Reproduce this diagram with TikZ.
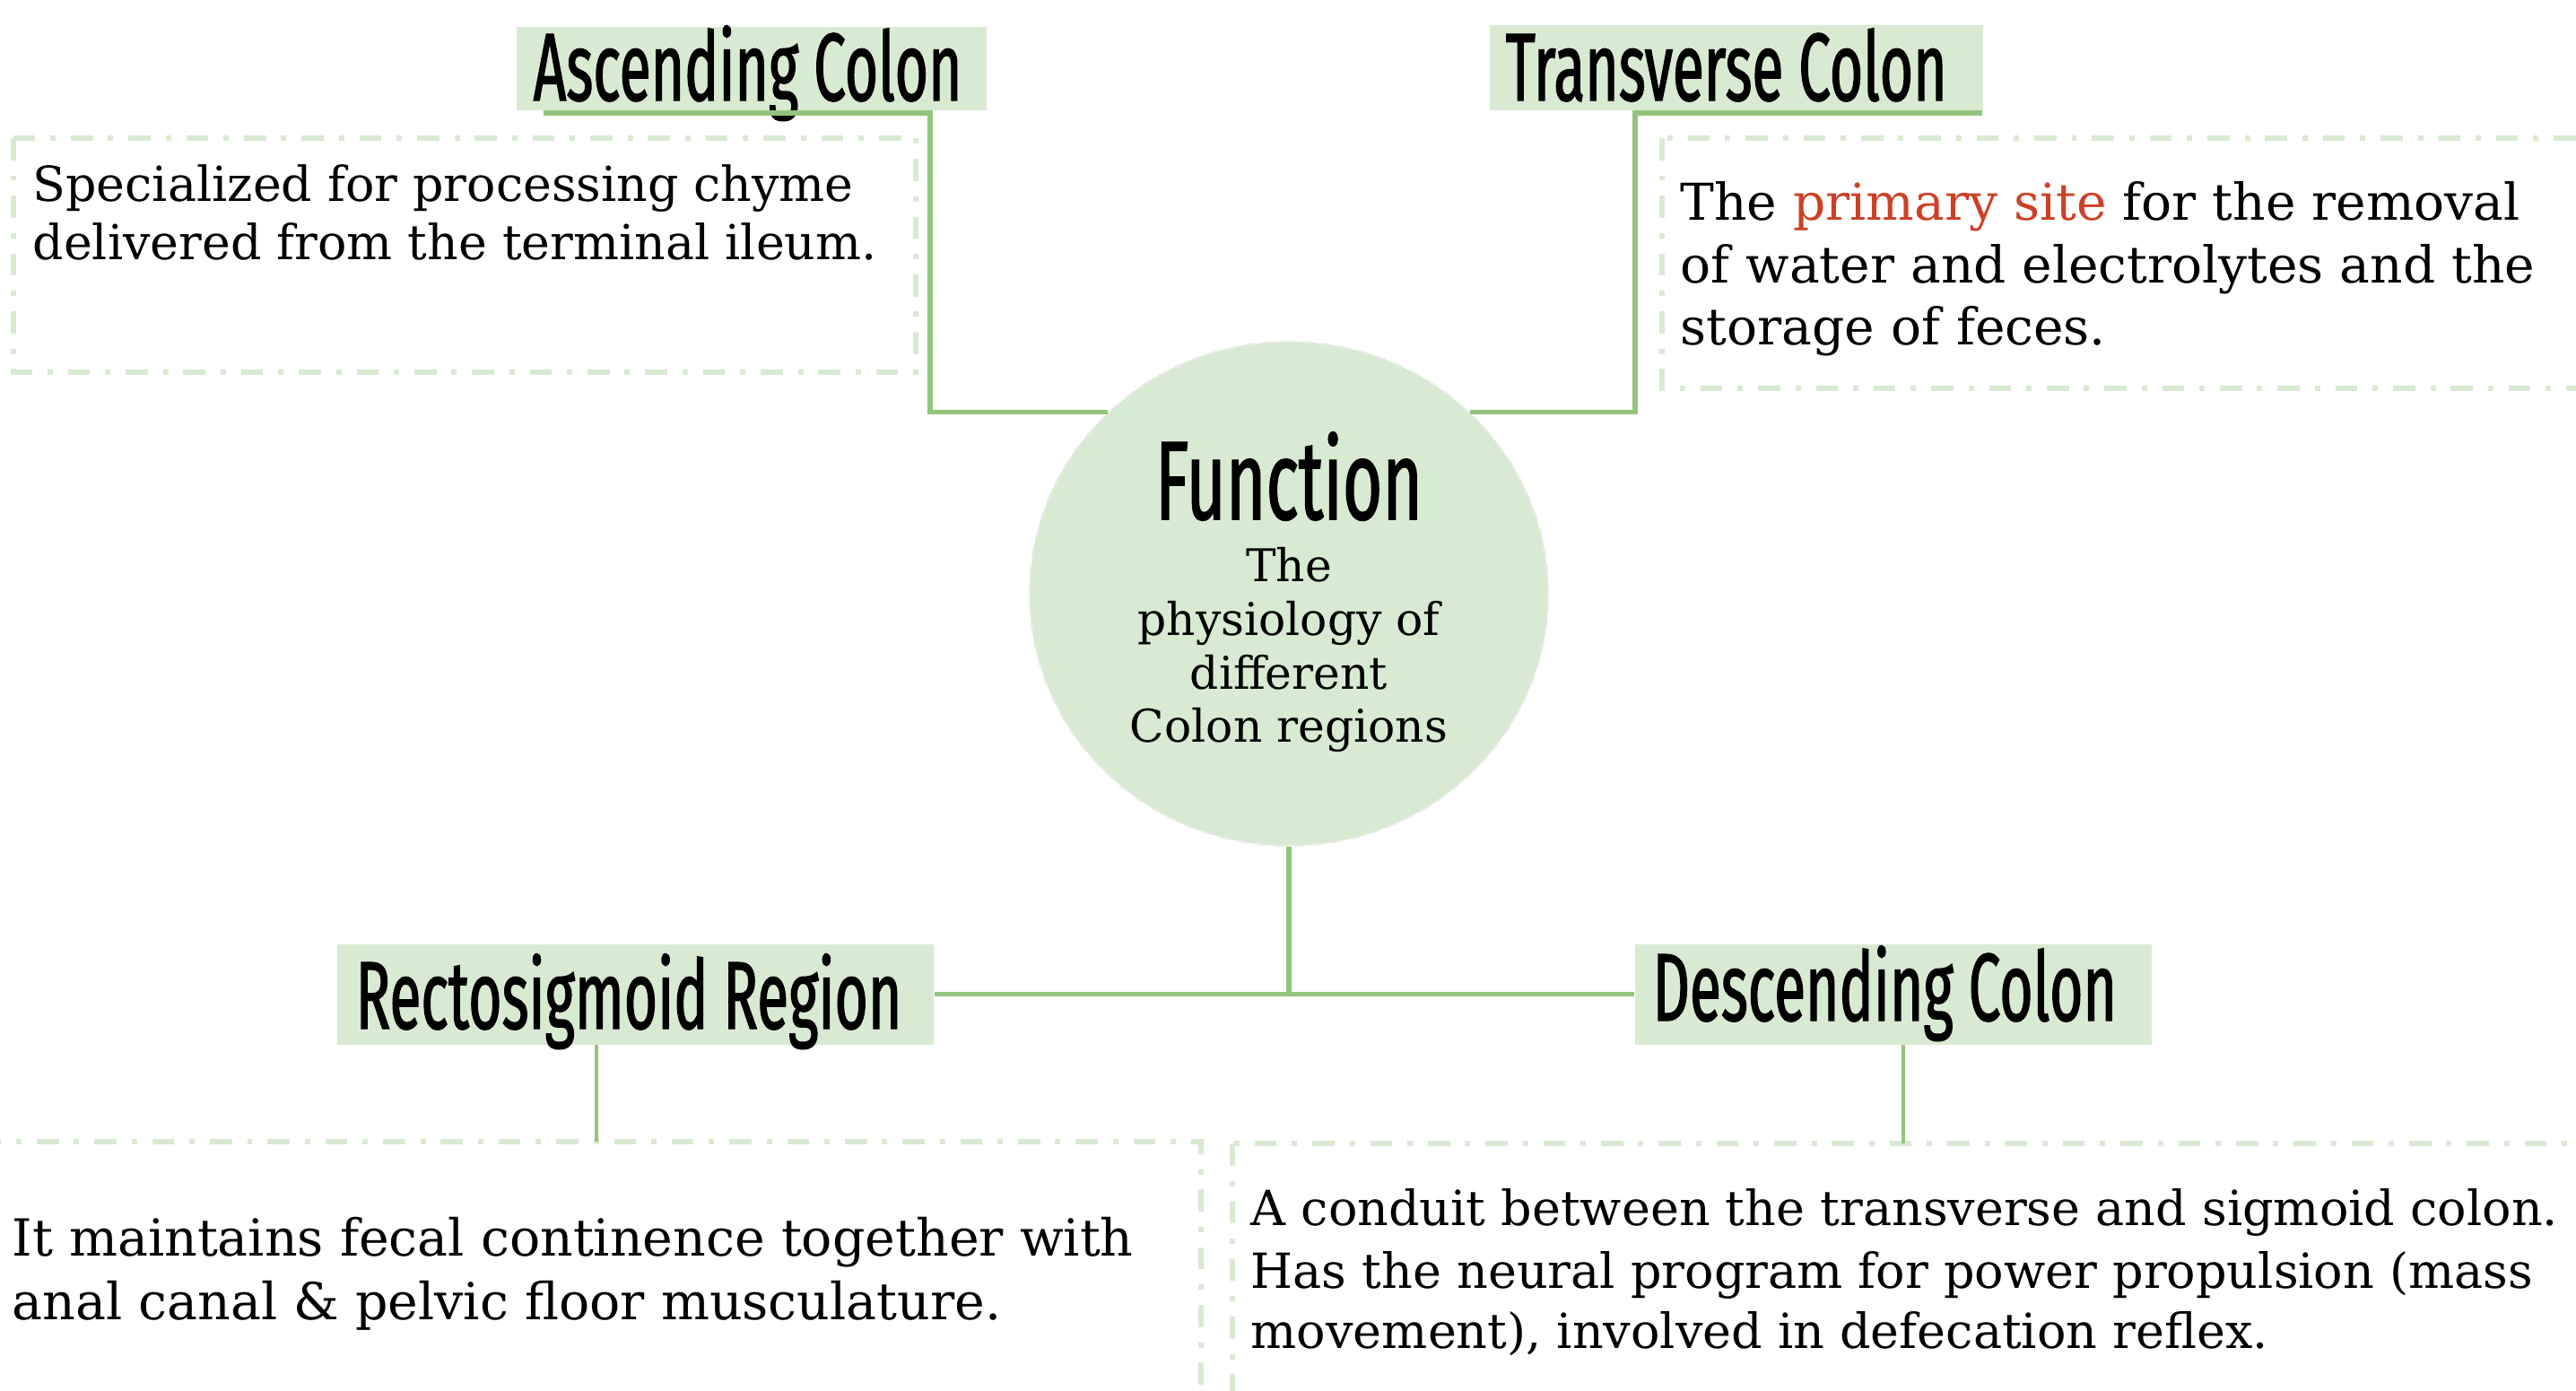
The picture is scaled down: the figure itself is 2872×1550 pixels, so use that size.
\documentclass[tikz,border=0pt]{standalone}
\usepackage{fontspec}
\setmainfont{DejaVu Serif}
\newfontfamily\headfont[FakeStretch=0.597,FakeBold=1.2]{Fira Sans}
\newfontfamily\hubfont[FakeStretch=0.61,FakeBold=1.2]{Fira Sans}
\usetikzlibrary{shapes.geometric}
\definecolor{leaf}{HTML}{D9EAD3}
\definecolor{stem}{HTML}{93C47D}
\definecolor{accent}{HTML}{CC4125}
\begin{document}
\begin{tikzpicture}[x=0.01cm,y=-0.01cm,
  headbox/.style={fill=leaf,draw=none,inner sep=0pt,anchor=north west},
  headtext/.style={anchor=base west,inner sep=0pt,font=\headfont\fontsize{30.5}{32}\selectfont},
  body/.style={anchor=base west,inner sep=0pt,font=\fontsize{#1}{18}\selectfont},
  body/.default=15.6,
  hubtext/.style={anchor=base,inner sep=0pt,font=\fontsize{14.3}{16}\selectfont},
  link/.style={draw=stem,line width=1.45pt},
  droplink/.style={draw=stem,line width=1pt},
  notebox/.style={draw=leaf,line width=1.45pt,dash pattern=on 7pt off 4.8pt on 1.7pt off 4.8pt}]
\useasboundingbox (0,0) rectangle (2872,1550);
\clip (0,0) rectangle (2872,1550);

% dashed note frames
\draw[notebox] (15,154) rectangle (1021,415);
\draw[notebox] (1853,154) rectangle (2920,433);
\draw[notebox] (-40,1273) rectangle (1339,1620);
\draw[notebox] (1374,1275) rectangle (2920,1620);

% central hub
\node[ellipse,fill=leaf,draw=black!8,dashed,line width=0.6pt,
      minimum width=5.78cm,minimum height=5.62cm,inner sep=0pt] (fn) at (1437,662) {};
\node[anchor=base,inner sep=0pt,font=\hubfont\fontsize{35.5}{37}\selectfont] (fnt) at (1437,579) {Function};
\node[hubtext] (fn1) at (1437,648) {The};
\node[hubtext] (fn2) at (1437,708) {physiology of};
\node[hubtext] (fn3) at (1437,768) {different};
\node[hubtext] (fn4) at (1437,827) {Colon regions};

% heading boxes
\node[headbox,minimum width=5.24cm,minimum height=0.93cm] (asc) at (575,29) {};
\node[headbox,minimum width=5.50cm,minimum height=0.95cm] (trv) at (1660,27) {};
\node[headbox,minimum width=6.65cm,minimum height=1.12cm] (rct) at (375,1052) {};
\node[headbox,minimum width=5.76cm,minimum height=1.12cm] (dsc) at (1822,1052) {};
\node[headtext] (asct) at (594,112) {Ascending Colon};
\node[headtext] (trvt) at (1678,112) {Transverse Colon};
\node[headtext] (rctt) at (396,1147) {Rectosigmoid Region};
\node[headtext] (dsct) at (1842,1138) {Descending Colon};

% connectors
\coordinate (ascturn) at (1037,126);
\coordinate (ascend) at (606,126);
\coordinate (trvturn) at (1823,126);
\coordinate (trvend) at (2210,126);
\coordinate (hubjoin) at (1437,1108);
\coordinate (rctdrop) at (665,1273);
\coordinate (dscdrop) at (2122,1275);
\draw[link] (fn.135) -| (ascturn) -- (ascend);
\draw[link] (fn.45) -| (trvturn) -- (trvend);
\draw[link] (fn.south) -- (hubjoin);
\draw[link] (rct.east) -- (dsc.west);
\draw[droplink] (rct.south -| rctdrop) -- (rctdrop);
\draw[droplink] (dsc.south -| dscdrop) -- (dscdrop);

% note texts
\node[body=15.3] (a1) at (36,224) {Specialized for processing chyme};
\node[body=15.3] (a2) at (36,289) {delivered from the terminal ileum.};
\node[body=16.1] (t1) at (1873,245) {The \textcolor{accent}{primary site} for the removal};
\node[body=16.1] (t2) at (1873,315) {of water and electrolytes and the};
\node[body=16.1] (t3) at (1873,384) {storage of feces.};
\node[body=16.2] (r1) at (13,1400) {It maintains fecal continence together with};
\node[body=16.2] (r2) at (13,1471) {anal canal \& pelvic floor musculature.};
\node[body=15.35] (d1) at (1394,1366) {A conduit between the transverse and sigmoid colon.};
\node[body=15.35] (d2) at (1394,1436) {Has the neural program for power propulsion (mass};
\node[body=15.35] (d3) at (1394,1503) {movement), involved in defecation reflex.};
\end{tikzpicture}
\end{document}
